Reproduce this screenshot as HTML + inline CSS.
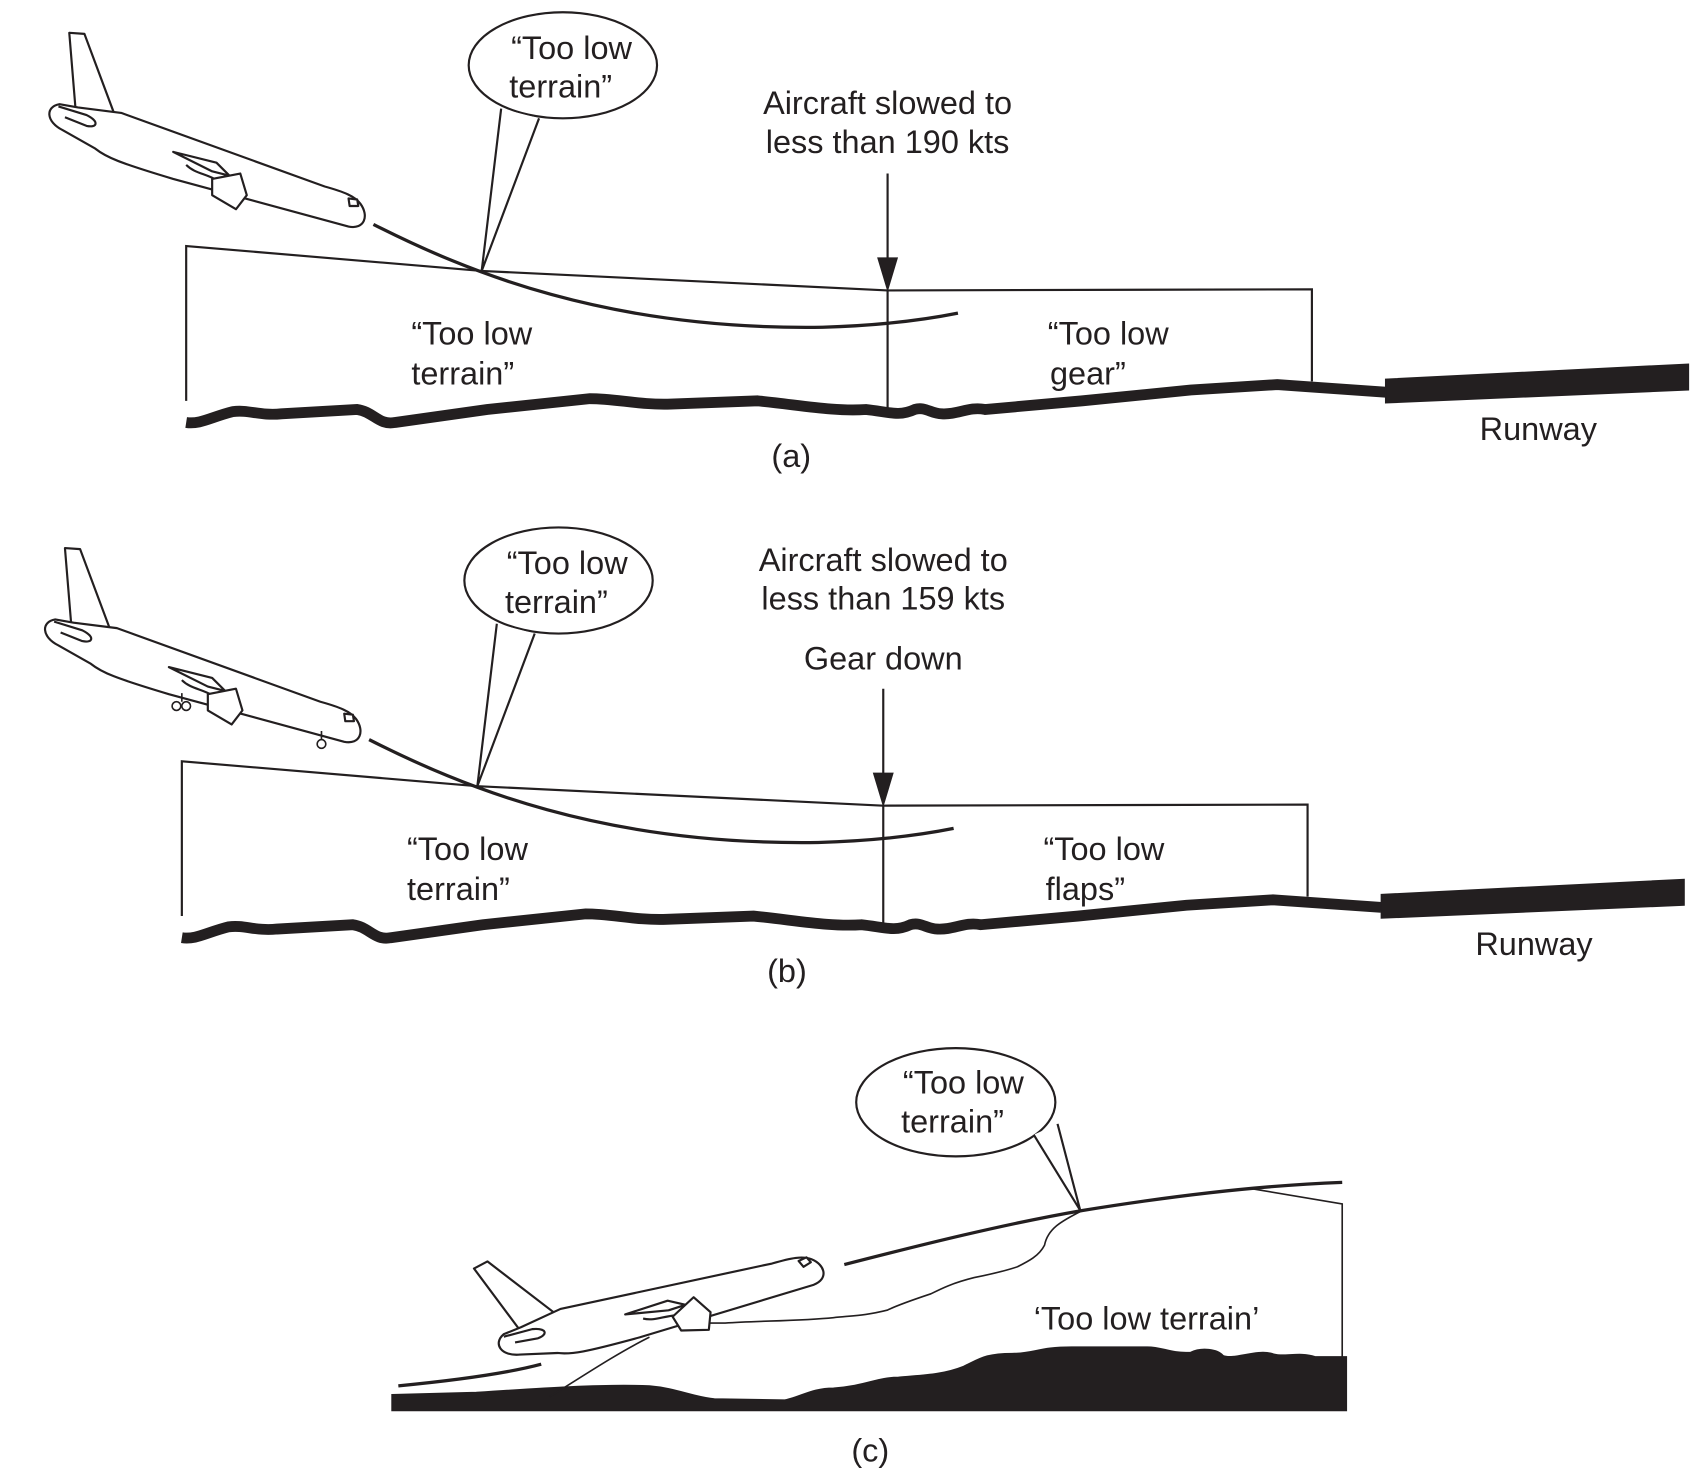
<!DOCTYPE html>
<html><head><style>html,body{margin:0;padding:0;background:#fff}svg{display:block}text{font-family:"Liberation Sans",sans-serif;fill:#231f20;font-size:30px}</style></head>
<body>
<svg width="1694" height="1476" viewBox="0 0 1565 1363" xmlns="http://www.w3.org/2000/svg">
<defs>
<g id="plane" fill="#fff" stroke="#231f20" stroke-width="2" stroke-linejoin="round">
<path d="M70,103 L64,30 L78,31 L106,106 Z"/>
<path d="M55,96 C42,98 42,112 58,120 L88,137 C98,145 110,150 160,165 L322,209 C337,212 341,199 333,188 C328,181 318,177 300,172 L112,104 L72,99 Z"/>
<path d="M54,98 L80,106 C92,112 90,118 80,116 L60,108"/>
<path d="M160,140 L196,158 L212,162 L200,150 Z"/>
<path d="M172,152 C180,160 190,160 200,166 L215,168"/>
<path d="M196,165 L222,160 L228,180 L218,193 L196,180 Z"/>
<path d="M322,183 L330,184 L331,190 L323,190 Z"/>
</g>
</defs>
<g fill="none" stroke="#231f20">
<use href="#plane"/>
<ellipse cx="520" cy="60" rx="87" ry="49" fill="#fff" stroke-width="2"/>
<path d="M463,100 L445,250 L498,109" fill="#fff" stroke-width="2"/>
<path d="M345,207 C430,250 560,305 760,302 C830,300 870,292 885,289" stroke-width="3"/>
<path d="M172,370 L172,227 L445,250 L820,268 L1212,267 L1212,352" stroke-width="2"/>
<path d="M820,160 L820,250" stroke-width="2"/>
<path d="M811,238 L820,268 L829,238 Z" fill="#231f20"/>
<path d="M820,268 L820,378" stroke-width="2"/>
<path d="M172,390 C185,392 195,385 215,380 C230,378 240,384 260,382 L330,378 C345,380 350,393 365,390 L450,378 L545,368 C570,368 590,374 620,373 L700,370 C740,374 770,380 800,378 C820,380 830,385 845,378 C855,375 860,382 870,382 C885,383 895,375 910,378 L1000,370 L1100,360 L1180,355 L1280,362" stroke-width="10"/>
<path d="M1280,350 L1560,336 L1560,360 L1280,372 Z" fill="#231f20"/>
<use href="#plane" transform="translate(-4,476)"/>
<g stroke-width="1.5"><circle cx="163" cy="652" r="4" fill="#fff"/><circle cx="172" cy="652" r="4" fill="#fff"/><circle cx="297" cy="687" r="4" fill="#fff"/><path d="M168,640 L168,648 M297,675 L297,683"/></g>
<ellipse cx="516" cy="536" rx="87" ry="49" fill="#fff" stroke-width="2"/>
<path d="M459,576 L441,726 L494,585" fill="#fff" stroke-width="2"/>
<path d="M341,683 C426,726 556,781 756,778 C826,776 866,768 881,765" stroke-width="3"/>
<path d="M168,846 L168,703 L441,726 L816,744 L1208,743 L1208,828" stroke-width="2"/>
<path d="M816,636 L816,726" stroke-width="2"/>
<path d="M807,714 L816,744 L825,714 Z" fill="#231f20"/>
<path d="M816,744 L816,854" stroke-width="2"/>
<path d="M168,866 C181,868 191,861 211,856 C226,854 236,860 256,858 L326,854 C341,856 346,869 361,866 L446,854 L541,844 C566,844 586,850 616,849 L696,846 C736,850 766,856 796,854 C816,856 826,861 841,854 C851,851 856,858 866,858 C881,859 891,851 906,854 L996,846 L1096,836 L1176,831 L1276,838" stroke-width="10"/>
<path d="M1276,826 L1556,812 L1556,836 L1276,848 Z" fill="#231f20"/>
<path d="M362,1288 L440,1286 C500,1282 560,1278 600,1280 C625,1282 640,1290 660,1292 L725,1293 C740,1290 750,1282 770,1282 C800,1280 810,1272 830,1272 C850,1270 870,1270 890,1262 C905,1255 910,1250 935,1250 C955,1250 960,1244 990,1244 L1060,1244 C1075,1244 1080,1250 1100,1249 C1110,1244 1125,1246 1130,1252 C1140,1256 1160,1246 1175,1250 C1185,1254 1200,1248 1215,1253 L1244,1253 L1244,1303 L362,1303 Z" fill="#231f20"/>
<path d="M368,1280 C420,1275 470,1268 500,1260" stroke-width="3"/>
<path d="M780,1168 C850,1150 930,1130 1000,1118 C1080,1105 1160,1095 1240,1092" stroke-width="3"/>
<path d="M1157,1098 L1240,1112 L1240,1262" stroke-width="1.5"/>
<path d="M1000,1118 C980,1128 968,1135 965,1150 C960,1160 950,1165 940,1170 C925,1175 910,1178 900,1180 C880,1185 870,1190 860,1195 C845,1200 830,1205 820,1210 C800,1215 790,1215 770,1217 C740,1220 700,1220 670,1222 L650,1222" stroke-width="1.5"/>
<path d="M508,1290 C540,1270 570,1250 600,1235" stroke-width="1.5"/>
<use href="#plane" transform="translate(470,1240) rotate(-32) translate(-55,-105)"/>
<ellipse cx="883" cy="1018" rx="92" ry="50" fill="#fff" stroke-width="2"/>
<path d="M955,1048 L998,1118 L977,1038" fill="#fff" stroke-width="2"/>
</g>
<g>
<text x="528" y="54" text-anchor="middle">“Too low</text><text x="518" y="90" text-anchor="middle">terrain”</text>
<text x="820" y="105" text-anchor="middle">Aircraft slowed to</text>
<text x="820" y="141" text-anchor="middle">less than 190 kts</text>
<text x="380" y="318">“Too low</text><text x="380" y="355">terrain”</text>
<text x="968" y="318">“Too low</text><text x="970" y="355">gear”</text>
<text x="1367" y="406">Runway</text>
<text x="731" y="431" text-anchor="middle">(a)</text>

<text x="524" y="530" text-anchor="middle">“Too low</text><text x="514" y="566" text-anchor="middle">terrain”</text>
<text x="816" y="527" text-anchor="middle">Aircraft slowed to</text>
<text x="816" y="563" text-anchor="middle">less than 159 kts</text>
<text x="816" y="618" text-anchor="middle">Gear down</text>
<text x="376" y="794">“Too low</text><text x="376" y="831">terrain”</text>
<text x="964" y="794">“Too low</text><text x="966" y="831">flaps”</text>
<text x="1363" y="882">Runway</text>
<text x="727" y="907" text-anchor="middle">(b)</text>

<text x="890" y="1010" text-anchor="middle">“Too low</text><text x="880" y="1046" text-anchor="middle">terrain”</text>
<text x="955" y="1228">‘Too low terrain’</text>
<text x="804" y="1350" text-anchor="middle">(c)</text>
</g>
</svg>
</body></html>
